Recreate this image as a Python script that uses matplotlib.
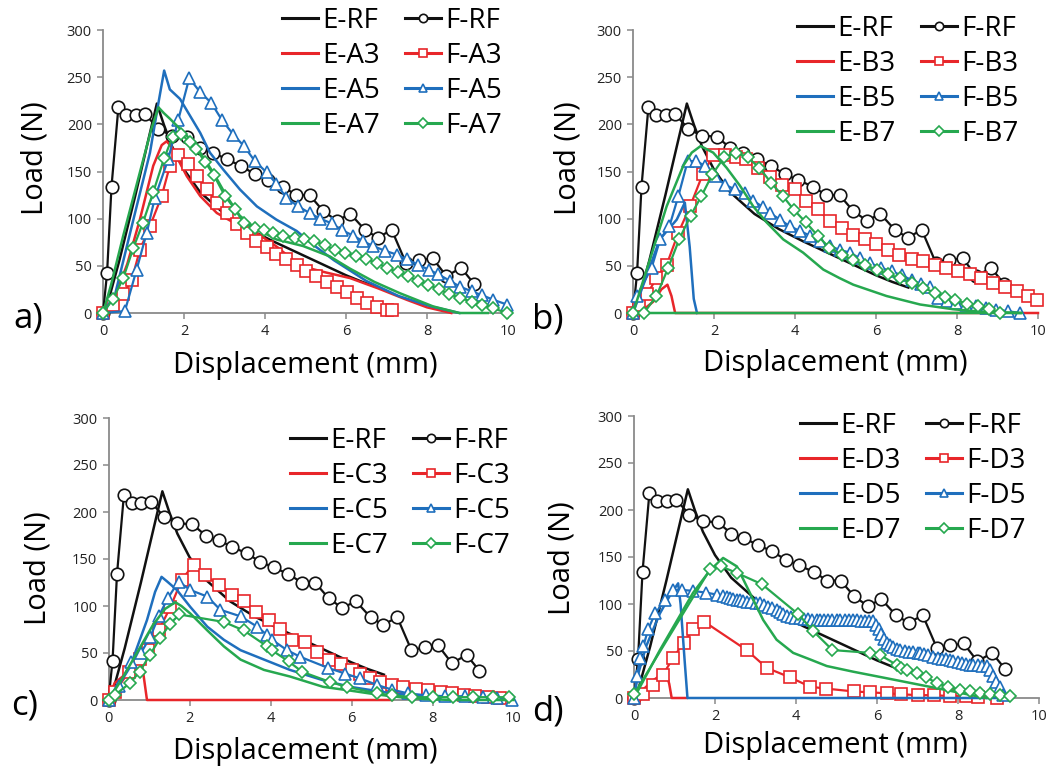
import matplotlib
matplotlib.use("Agg")
import matplotlib.pyplot as plt
from matplotlib.lines import Line2D

plt.rcParams['font.family'] = ['Open Sans', 'DejaVu Sans']

W, H = 1049, 769

# ---- shared reference curves (same in every panel) ----
ERF_x = [0, 0.1, 0.4, 0.8, 1.1, 1.33, 1.5, 1.7, 2.0, 2.4, 3.0, 3.6, 4.2, 4.8, 5.4, 6.0, 6.4, 6.8]
ERF_y = [0, 8, 55, 125, 180, 222, 200, 177, 152, 128, 105, 89, 76, 64, 52, 40, 33, 27]
FRF_x = [0, 0.1, 0.21, 0.38, 0.58, 0.81, 1.04, 1.37, 1.70, 2.07, 2.40, 2.72, 3.05, 3.41, 3.75, 4.08,
         4.44, 4.77, 5.10, 5.44, 5.77, 6.11, 6.47, 6.78, 7.13, 7.48, 7.81, 8.14, 8.48, 8.84, 9.16]
FRF_y = [0, 42, 134, 218, 210, 210, 211, 195, 188, 187, 175, 170, 163, 156, 147, 141,
         134, 125, 125, 108, 98, 105, 88, 80, 88, 53, 56, 58, 39, 48, 31]

# ---- panel a ----
EA3_x = [0, 0.3, 0.6, 0.91, 1.24, 1.45, 1.57, 1.7, 1.85, 2.07, 2.4, 2.81, 3.22, 3.79, 4.3, 4.86, 5.5, 6.1, 6.8, 7.5, 8.0, 8.6]
EA3_y = [0, 18, 52, 99, 156, 178, 182, 176, 163, 145, 124, 106, 96, 85, 70, 50, 43, 37, 26, 14, 6, 0]
FA3_x = [0, 0.25, 0.5, 0.71, 0.91, 1.16, 1.45, 1.65, 1.86, 2.11, 2.31, 2.58, 2.81, 3.05, 3.3, 3.55, 3.79, 4.04,
         4.28, 4.53, 4.78, 5.02, 5.27, 5.52, 5.77, 6.02, 6.27, 6.52, 6.77, 7.02, 7.13]
FA3_y = [0, 8, 20, 35, 67, 92, 124, 156, 168, 158, 145, 131, 117, 106, 94, 85, 76, 70,
         63, 57, 51, 45, 39, 33, 28, 22, 16, 11, 6, 3, 3]
EA5_x = [0, 0.3, 0.75, 1.16, 1.37, 1.51, 1.65, 1.9, 2.15, 2.4, 2.64, 2.97, 3.38, 3.8, 4.28, 4.78, 5.2, 5.7, 6.5, 7.3, 8.1, 8.8]
EA5_y = [0, 20, 99, 170, 223, 257, 237, 227, 209, 191, 170, 152, 131, 113, 99, 87, 72, 56, 34, 18, 7, 0]
FA5_x = [0, 0.54, 0.83, 1.08, 1.28, 1.61, 1.86, 2.13, 2.40, 2.67, 2.93, 3.22, 3.48, 3.75, 4.04, 4.28, 4.53,
         4.82, 5.1, 5.36, 5.65, 5.89, 6.18, 6.42, 6.67, 6.96, 7.25, 7.5, 7.79, 8.04, 8.28, 8.57, 8.81, 9.1,
         9.35, 9.64, 9.97]
FA5_y = [0, 2, 46, 85, 122, 163, 205, 249, 234, 223, 205, 189, 177, 161, 149, 137, 122,
         113, 106, 100, 95, 88, 82, 76, 71, 66, 62, 57, 51, 46, 41, 34, 28, 23,
         19, 14, 9]
EA7_x = [0, 0.2, 0.5, 0.91, 1.2, 1.37, 1.5, 1.65, 2.07, 2.4, 2.72, 3.05, 3.38, 3.79, 4.28, 4.94, 5.6, 6.1, 6.7, 7.33, 8.15, 8.8, 9.5]
EA7_y = [0, 30, 82, 149, 196, 218, 212, 206, 188, 170, 149, 124, 103, 89, 78, 71, 60, 47, 33, 21, 7, 0, 0]
FA7_x = [0, 0.25, 0.5, 0.75, 0.98, 1.24, 1.51, 1.72, 1.92, 2.15, 2.3, 2.52, 2.74, 3.01, 3.26, 3.48, 3.75, 3.97,
         4.2, 4.45, 4.73, 4.97, 5.22, 5.47, 5.72, 5.98, 6.24, 6.5, 6.76, 7.02, 7.28, 7.53, 7.78, 8.03, 8.3,
         8.55, 8.81, 9.1, 9.37, 9.64, 9.97]
FA7_y = [0, 15, 37, 69, 95, 128, 164, 187, 190, 181, 174, 160, 146, 124, 110, 95, 90, 88,
         85, 82, 80, 78, 76, 72, 67, 64, 60, 57, 53, 48, 43, 39, 34, 30, 25,
         20, 16, 12, 8, 5, 0]

# ---- panel b ----
EB3_x = [0, 0.3, 0.5, 0.7, 0.85, 0.95, 1.04, 10]
EB3_y = [0, 5, 12, 25, 30, 18, 0, 0]
FB3_x = [0, 0.15, 0.35, 0.58, 0.83, 1.12, 1.41, 1.72, 1.98, 2.27, 2.54, 2.8, 3.09, 3.38, 3.67, 4.0, 4.28, 4.57,
         4.86, 5.15, 5.43, 5.73, 6.0, 6.3, 6.58, 6.88, 7.16, 7.45, 7.73, 8.03, 8.31, 8.6, 8.88, 9.19, 9.47,
         9.76, 9.97]
FB3_y = [0, 8, 20, 37, 51, 85, 113, 147, 167, 168, 165, 163, 154, 144, 136, 131, 119, 110,
         97, 90, 83, 78, 73, 67, 62, 57, 55, 51, 48, 44, 41, 37, 32, 28, 23,
         18, 14]
EB5_x = [0, 0.3, 0.66, 1.08, 1.28, 1.4, 1.5, 1.58]
EB5_y = [0, 35, 78, 99, 117, 70, 15, 0]
FB5_x = [0, 0.09, 0.46, 0.67, 0.9, 1.12, 1.35, 1.56, 1.78, 2.02, 2.27, 2.52, 2.77, 2.97, 3.22, 3.38, 3.63,
         3.87, 4.12, 4.37, 4.62, 4.86, 5.1, 5.36, 5.6, 5.85, 6.12, 6.39, 6.63, 6.88, 7.1, 7.33, 7.53, 7.75,
         7.98, 8.22, 8.48, 8.72, 8.97, 9.25, 9.55]
FB5_y = [0, 18, 48, 78, 92, 124, 161, 161, 156, 145, 136, 131, 127, 119, 112, 106, 99,
         92, 87, 82, 76, 71, 67, 64, 58, 53, 48, 44, 40, 35, 31, 28, 16, 13,
         11, 9, 7, 5, 3.5, 2, 0]
EB7_x = [0, 0.42, 0.83, 1.24, 1.45, 1.67, 1.98, 2.31, 2.64, 2.97, 3.3, 3.71, 4.2, 4.7, 5.1, 5.44, 6.26, 7.09,
         7.9, 8.7, 9.6, 0.27]
EB7_y = [0, 57, 113, 156, 170, 177, 170, 154, 135, 113, 96, 78, 64, 46, 37, 30, 18, 9,
         4, 1, 0, 0]
FB7_x = [0, 0.27, 0.58, 0.87, 1.14, 1.42, 1.69, 1.96, 2.25, 2.54, 2.83, 3.12, 3.41, 3.7, 3.98, 4.27, 4.56,
         4.85, 5.15, 5.44, 5.73, 6.02, 6.3, 6.59, 6.88, 7.17, 7.46, 7.7, 7.95, 8.24, 8.53, 8.8, 9.07]
FB7_y = [0, 0, 18, 48, 78, 103, 124, 147, 165, 170, 165, 154, 138, 124, 109, 96, 82,
         69, 62, 56, 51, 46, 41, 37, 32, 27, 21, 17, 14, 10, 7, 4, 0]

# ---- panel c ----
EC3_x = [0, 0.15, 0.35, 0.55, 0.78, 0.87, 0.95, 7.0]
EC3_y = [0, 18, 25, 35, 50, 25, 0, 0]
FC3_x = [0, 0.15, 0.5, 0.78, 0.98, 1.24, 1.53, 1.81, 2.1, 2.39, 2.72, 3.05, 3.34, 3.64, 3.96, 4.24, 4.53,
         4.85, 5.15, 5.45, 5.73, 6.0, 6.21, 6.45, 6.7, 7.0, 7.28, 7.6, 7.9, 8.2, 8.48, 8.78, 9.06, 9.36, 9.67]
FC3_y = [0, 8, 30, 44, 53, 74, 99, 128, 144, 133, 122, 112, 105, 94, 85, 76, 64,
         62, 51, 43, 38, 32, 28, 23, 19, 16, 14, 12, 11, 9, 7, 5, 4, 3, 2]
EC5_x = [0, 0.2, 0.53, 0.95, 1.15, 1.31, 1.45, 1.69, 2.02, 2.44, 2.85, 3.26, 3.84, 4.48, 5.3, 5.97, 7.0, 8.0, 9.0, 10.0]
EC5_y = [0, 12, 35, 85, 115, 131, 126, 117, 99, 78, 64, 53, 43, 32, 21, 14, 7, 3, 1, 0]
FC5_x = [0, 0.25, 0.55, 0.8, 1.03, 1.24, 1.46, 1.73, 2.02, 2.44, 2.76, 3.26, 3.67, 3.92, 4.04, 4.41, 4.73,
         5.43, 5.85, 6.21, 6.63, 7.0, 7.4, 7.85, 8.3, 8.8, 9.25, 9.6, 9.97]
FC5_y = [0, 15, 40, 50, 67, 89, 108, 126, 117, 110, 96, 89, 78, 69, 64, 53, 46,
         34, 28, 23, 16, 11, 7, 5, 4, 4, 3, 2, 0]
EC7_x = [0, 0.3, 0.7, 1.1, 1.4, 1.65, 1.8, 2.02, 2.44, 2.85, 3.26, 3.84, 4.48, 5.3, 5.97, 6.6, 7.2, 7.8, 8.5, 9.2, 10.0]
EC7_y = [0, 20, 50, 80, 97, 104, 100, 92, 74, 57, 43, 32, 25, 14, 10, 6, 3, 1, 0, 0, 0]
FC7_x = [0, 0.15, 0.53, 0.77, 1.02, 1.28, 1.52, 1.75, 2.85, 3.34, 3.92, 4.03, 4.45, 4.78, 5.48, 5.89, 6.63,
         7.0, 7.5, 8.0, 8.5, 9.0, 9.5, 9.9]
FC7_y = [0, 5, 18, 30, 48, 66, 81, 91, 83, 74, 57, 53, 41, 30, 19, 14, 7,
         5, 3, 3, 3, 3, 3, 3]

# ---- panel d ----
ED3_x = [0, 0.2, 0.48, 0.65, 0.8, 0.87, 0.93, 1.3]
ED3_y = [0, 8, 19, 24, 26, 15, 0, 0]
FD3_x = [0, 0.23, 0.48, 0.72, 0.97, 1.23, 1.46, 1.74, 2.78, 3.28, 3.85, 4.35, 4.74, 5.42, 5.83, 6.25, 6.6,
         7.0, 7.4, 7.8, 8.2, 8.5, 8.96]
FD3_y = [0, 4, 14, 25, 43, 59, 73, 81, 51, 32, 22, 12, 10, 7, 6, 5, 4,
         3, 3, 2, 2, 1, 0]
ED5_x = [0, 0.1, 0.3, 0.64, 0.9, 1.09, 1.15, 1.25, 1.32, 9.0]
ED5_y = [0, 25, 55, 90, 110, 122, 100, 40, 0, 0]
FD5_x = [0, 0.07, 0.15, 0.23, 0.35, 0.52, 0.77, 0.97, 1.18, 1.45, 1.79, 2.05, 2.2, 2.3, 2.37, 2.45, 2.55,
         2.62, 2.7, 2.8, 2.9, 3.0, 3.11, 3.2, 3.3, 3.4, 3.52, 3.6, 3.68, 3.77, 3.87, 3.97, 4.1, 4.2, 4.3,
         4.4, 4.51, 4.6, 4.7, 4.8, 4.9, 5.0, 5.09, 5.2, 5.3, 5.4, 5.5, 5.6, 5.7, 5.8, 5.91, 5.97, 6.04,
         6.1, 6.17, 6.24, 6.32, 6.4, 6.5, 6.57, 6.7, 6.8, 6.9, 7.0, 7.06, 7.15, 7.25, 7.39, 7.5, 7.6,
         7.7, 7.8, 7.88, 8.0, 8.1, 8.2, 8.3, 8.38, 8.5, 8.6, 8.71, 8.8, 8.87, 8.95, 9.04, 9.1]
FD5_y = [0, 23, 43, 55, 73, 90, 104, 115, 115, 114, 112, 110, 108, 107, 106, 105, 104,
         104, 103, 102, 102, 101, 101, 99, 97, 96, 94, 91, 89, 87, 86, 85, 85, 84, 84,
         83, 83, 83, 83, 83, 83, 83, 83, 83, 83, 83, 83, 82, 82, 82, 82, 78, 73,
         68, 63, 59, 56, 54, 52, 51, 50, 49, 49, 48, 48, 47, 46, 44, 43, 42,
         41, 40, 39, 38, 37, 36, 35, 35, 35, 34, 34, 30, 23, 17, 12, 3]
ED7_x = [0, 0.64, 1.46, 1.88, 2.2, 2.54, 2.86, 3.19, 3.52, 3.93, 4.35, 4.76, 5.41, 6.24, 7.06, 7.88, 8.45, 8.7]
ED7_y = [0, 51, 112, 136, 149, 140, 112, 83, 62, 48, 41, 34, 28, 21, 14, 7, 2, 0]
FD7_x = [0, 1.88, 2.15, 2.54, 3.16, 4.06, 4.43, 4.9, 5.83, 6.07, 6.49, 6.6, 6.75, 6.98, 7.22, 7.47, 7.75,
         8.05, 8.3, 8.54, 8.8, 9.04, 9.28]
FD7_y = [4, 137, 140, 133, 121, 89, 71, 51, 48, 46, 35, 32, 30, 27, 22, 16, 12,
         9, 7, 5, 4, 3, 2]

BLACK, RED, BLUE, GREEN = '#111111', '#e8262a', '#1f6fbd', '#26a84f'
SERIES_STYLE = [(BLACK, 'o', 9.0), (RED, 's', 8.0), (BLUE, '^', 8.5), (GREEN, 'D', 6.5)]

panels = [
    dict(tag='a', code='A', rect=(103, 30, 508, 313),
         e=[(EA3_x, EA3_y), (EA5_x, EA5_y), (EA7_x, EA7_y)],
         f=[(FA3_x, FA3_y), (FA5_x, FA5_y), (FA7_x, FA7_y)],
         leg=(282, 7), xlab=(305, 366), ylab=(35, 158), plab=(28, 318)),
    dict(tag='b', code='B', rect=(633, 30, 1038, 313),
         e=[(EB3_x, EB3_y), (EB5_x, EB5_y), (EB7_x, EB7_y)],
         f=[(FB3_x, FB3_y), (FB5_x, FB5_y), (FB7_x, FB7_y)],
         leg=(797, 15), xlab=(835, 363), ylab=(568, 158), plab=(548, 320)),
    dict(tag='c', code='C', rect=(108.5, 418, 513.5, 700),
         e=[(EC3_x, EC3_y), (EC5_x, EC5_y), (EC7_x, EC7_y)],
         f=[(FC3_x, FC3_y), (FC5_x, FC5_y), (FC7_x, FC7_y)],
         leg=(290, 427), xlab=(305, 752), ylab=(38, 568), plab=(25, 705)),
    dict(tag='d', code='D', rect=(634, 416, 1039, 698),
         e=[(ED3_x, ED3_y), (ED5_x, ED5_y), (ED7_x, ED7_y)],
         f=[(FD3_x, FD3_y), (FD5_x, FD5_y), (FD7_x, FD7_y)],
         leg=(800, 412), xlab=(835, 745), ylab=(562, 558), plab=(548, 712)),
]

fig = plt.figure(figsize=(W / 100, H / 100), dpi=100)


def fx(px):
    return px / W


def fy(py):
    return 1 - py / H


for p in panels:
    x0, y0, x1, y1 = p['rect']
    ax = fig.add_axes([fx(x0), fy(y1), (x1 - x0) / W, (y1 - y0) / H])

    e_series = [(ERF_x, ERF_y)] + p['e']
    f_series = [(FRF_x, FRF_y)] + p['f']
    suffix = ['RF', p['code'] + '3', p['code'] + '5', p['code'] + '7']

    for i, ((ex, ey), (fxs, fys)) in enumerate(zip(e_series, f_series)):
        col, mk, ms = SERIES_STYLE[i]
        ax.plot(ex, ey, color=col, lw=1.8, clip_on=False, zorder=2 + i)
        ax.plot(fxs, fys, color=col, lw=1.6, marker=mk, ms=ms, mfc='white', mec=col, mew=1.2,
                clip_on=False, zorder=2 + i)

    handles = []
    labels = []
    for i in range(4):
        col = SERIES_STYLE[i][0]
        handles.append(Line2D([], [], color=col, lw=2.2))
        labels.append('E-' + suffix[i])
    for i in range(4):
        col, mk, _ = SERIES_STYLE[i]
        handles.append(Line2D([], [], color=col, lw=2.2, marker=mk, ms=6 if mk != 'D' else 5,
                              mfc='white', mec=col, mew=1.2))
        labels.append('F-' + suffix[i])
    lx, ly = p['leg']
    fig.legend(handles, labels, ncol=2, loc='upper left', bbox_to_anchor=(fx(lx), fy(ly)),
               bbox_transform=fig.transFigure, frameon=False, fontsize=20, handlelength=1.3,
               handletextpad=0.15, columnspacing=0.9, labelspacing=0.25, borderpad=0,
               borderaxespad=0)

    ax.set_xlim(0, 10)
    ax.set_ylim(0, 300)
    ax.set_xticks(range(0, 11, 2))
    ax.set_yticks(range(0, 301, 50))
    for s in ['top', 'right']:
        ax.spines[s].set_visible(False)
    for s in ['left', 'bottom']:
        ax.spines[s].set_color('#8a8a8a')
        ax.spines[s].set_linewidth(1.3)
        ax.spines[s].set_zorder(1)
    ax.tick_params(direction='out', length=4, width=1.1, color='#8a8a8a',
                   labelsize=10.5, labelcolor='#222222', pad=4)
    ax.patch.set_visible(False)

    ax.set_xlabel('Displacement (mm)', fontsize=21)
    ax.xaxis.set_label_coords(fx(p['xlab'][0]), fy(p['xlab'][1]), transform=fig.transFigure)
    ax.xaxis.label.set_va('center')
    ax.set_ylabel('Load (N)', fontsize=21)
    ax.yaxis.set_label_coords(fx(p['ylab'][0]), fy(p['ylab'][1]), transform=fig.transFigure)
    ax.yaxis.label.set_va('center')
    fig.text(fx(p['plab'][0]), fy(p['plab'][1]), p['tag'] + ')', fontsize=25,
             ha='center', va='center')

fig.savefig('out.png', dpi=100)
